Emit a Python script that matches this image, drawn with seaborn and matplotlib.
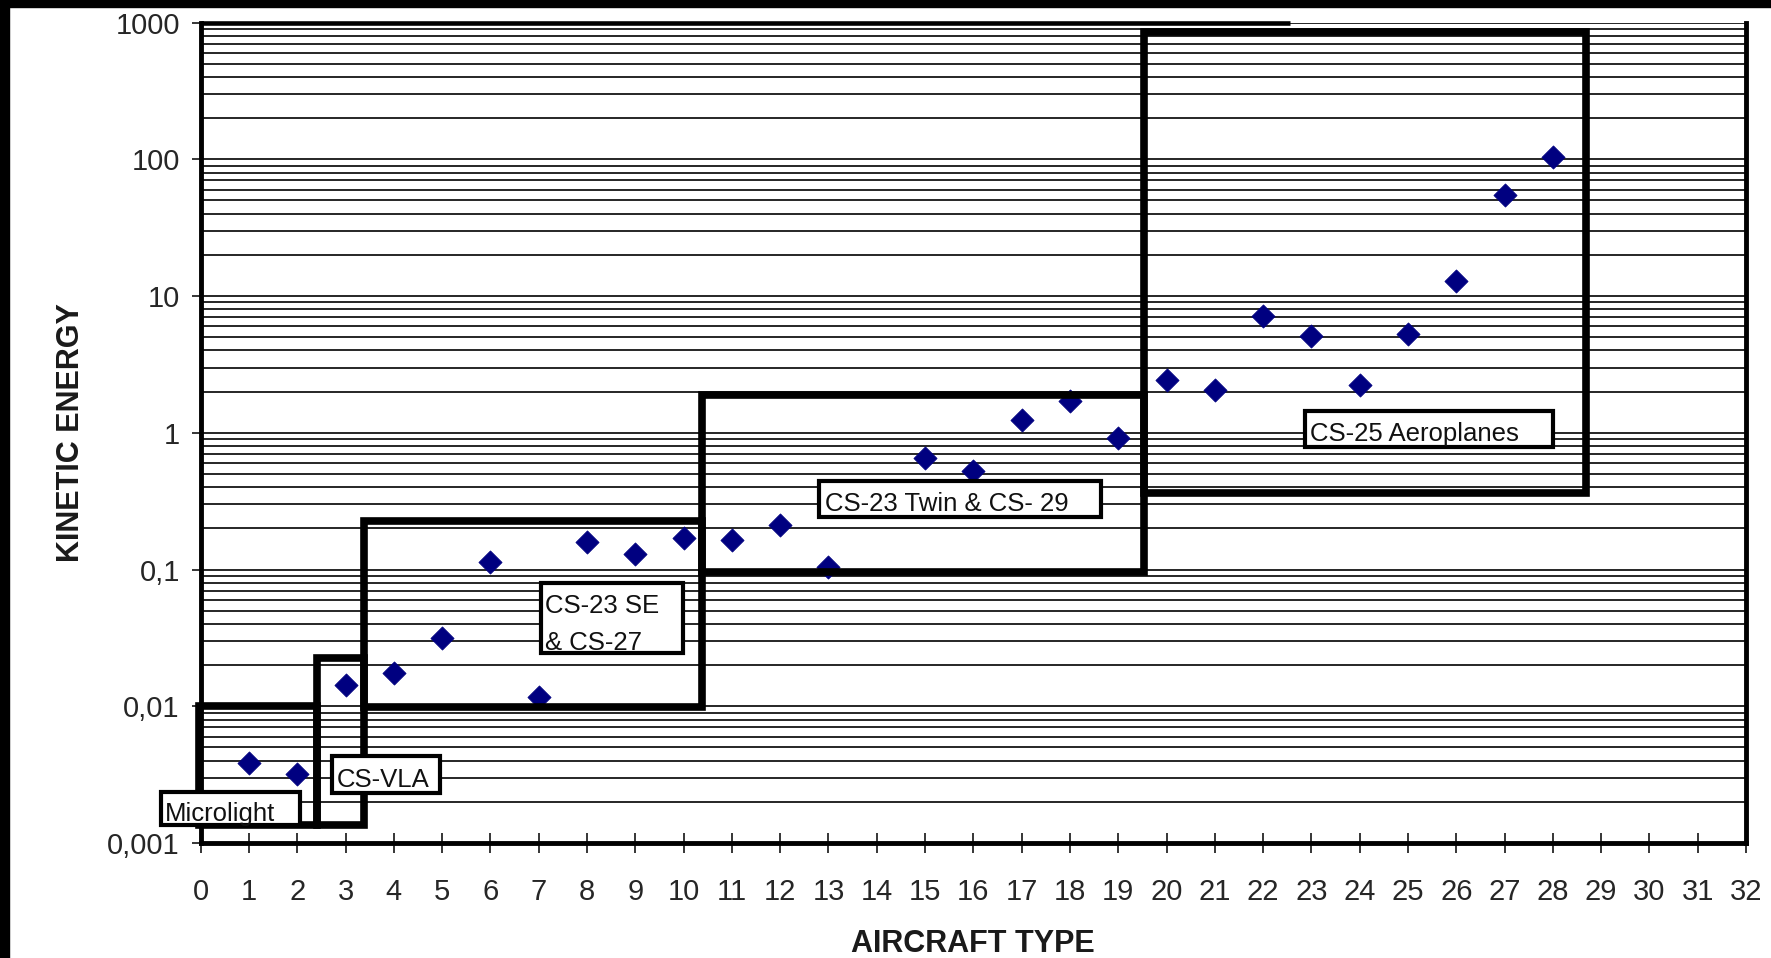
import numpy as np
import pandas as pd
import matplotlib
matplotlib.use("Agg")
import matplotlib.pyplot as plt
from matplotlib import font_manager
from matplotlib.patches import Rectangle
from matplotlib.ticker import FixedLocator, FixedFormatter, LogLocator, NullFormatter
import seaborn as sns

# Aircraft type index and kinetic energy per type (no entry for type 14)
aircraft_type = [1, 2, 3, 4, 5, 6, 7, 8, 9, 10, 11, 12, 13,
                 15, 16, 17, 18, 19, 20, 21, 22, 23, 24, 25, 26, 27, 28]
kinetic_energy = [0.00385, 0.00321, 0.0144, 0.0175, 0.0313, 0.113, 0.0116,
                  0.160, 0.130, 0.169, 0.164, 0.211, 0.105,
                  0.649, 0.527, 1.25, 1.70, 0.909,
                  2.43, 2.07, 7.20, 5.10, 2.23, 5.23, 12.9, 54.8, 103.0]

x_ticks = list(range(0, 33))
y_ticks = [0.001, 0.01, 0.1, 1, 10, 100, 1000]
y_tick_labels = ["0,001", "0,01", "0,1", "1", "10", "100", "1000"]

# Certification category regions: x extent and energy extent
zone_x = [(-0.04, 2.405), (2.405, 3.387), (3.387, 10.39), (10.39, 19.53), (19.53, 28.68)]
zone_y = [(0.00135, 0.0100), (0.00135, 0.0224), (0.0098, 0.226), (0.0952, 1.88), (0.360, 858.0)]

# Category caption boxes
caption_lines = [["Microlight"], ["CS-VLA"], ["CS-23 SE", "& CS-27"],
                 ["CS-23 Twin & CS- 29"], ["CS-25 Aeroplanes"]]
caption_box_x = [(-0.82, 2.06), (2.72, 4.95), (7.05, 9.99), (12.80, 18.64), (22.87, 28.0)]
caption_box_y = [(0.001346, 0.002379), (0.002312, 0.004335), (0.02448, 0.0791),
                 (0.2404, 0.4449), (0.789, 1.445)]
caption_text_x = [-0.74, 2.81, 7.14, 12.92, 22.97]
caption_baselines = [[0.001443], [0.002553], [0.0478, 0.02597], [0.2697], [0.875]]

df = pd.DataFrame({"type": aircraft_type, "energy": kinetic_energy})

sns.set_theme(style="white")
plt.rcParams["font.family"] = ["Liberation Sans", "DejaVu Sans"]

# narrow face for the captions, falling back to a regular face at a smaller size
installed = {f.name for f in font_manager.fontManager.ttflist}
caption_family, caption_size = "Liberation Sans", 18.5
for fam, size in [("Liberation Sans Narrow", 22), ("DejaVu Sans Condensed", 18.5)]:
    if fam in installed:
        caption_family, caption_size = fam, size
        break

fig = plt.figure(figsize=(17.71, 9.58), dpi=100)
fig.patch.set_facecolor("white")
ax = fig.add_axes([0.1133, 0.12004, 0.8726, 0.85647])

sns.scatterplot(data=df, x="type", y="energy", marker="D", s=140,
                color="#000080", edgecolor="#000080", linewidth=0.5,
                ax=ax, zorder=3, legend=False)

ax.set_yscale("log")
ax.set_xlim(0, 32)
ax.set_ylim(1e-3, 1e3)

ax.yaxis.set_major_locator(FixedLocator(y_ticks))
ax.yaxis.set_major_formatter(FixedFormatter(y_tick_labels))
ax.yaxis.set_minor_locator(LogLocator(base=10, subs=np.arange(2, 10)))
ax.yaxis.set_minor_formatter(NullFormatter())
ax.set_axisbelow(True)
ax.grid(True, axis="y", which="both", color="#262626", linewidth=1.4)
ax.xaxis.grid(False)

ax.set_xticks(x_ticks)
ax.tick_params(axis="x", which="major", direction="inout", length=15, width=1.1,
               color="black", pad=17.5, labelsize=21, labelcolor="#262626", bottom=True)
ax.tick_params(axis="y", which="major", direction="out", length=6.5, width=1.1,
               color="black", pad=8.5, labelsize=21, labelcolor="#262626", left=True)
ax.tick_params(axis="y", which="minor", length=0, left=False)

for side in ("left", "bottom", "right"):
    ax.spines[side].set_visible(True)
    ax.spines[side].set_linewidth(3.5)
    ax.spines[side].set_color("black")
ax.spines["top"].set_visible(False)

# partial heavy frame line along the top
ax.plot([0, 22.55], [1000, 1000], color="black", lw=3.3, clip_on=False,
        zorder=4, solid_capstyle="butt")

# category regions
for (x0, x1), (y0, y1) in zip(zone_x, zone_y):
    ax.add_patch(Rectangle((x0, y0), x1 - x0, y1 - y0, fill=False,
                           edgecolor="black", linewidth=5.5, joinstyle="miter",
                           zorder=5, clip_on=False))

# category captions
for lines, (bx0, bx1), (by0, by1), tx, bases in zip(caption_lines, caption_box_x,
                                                     caption_box_y, caption_text_x,
                                                     caption_baselines):
    ax.add_patch(Rectangle((bx0, by0), bx1 - bx0, by1 - by0, facecolor="white",
                           edgecolor="black", linewidth=3, joinstyle="miter",
                           zorder=6, clip_on=False))
    for line, yb in zip(lines, bases):
        ax.text(tx, yb, line, fontsize=caption_size, family=[caption_family, "DejaVu Sans"],
                va="baseline", ha="left", color="#111111", zorder=7, clip_on=False)

ax.set_xlabel("AIRCRAFT TYPE", fontsize=22, fontweight="bold", labelpad=17, color="#1a1a1a")
ax.set_ylabel("KINETIC ENERGY", fontsize=22, fontweight="bold", labelpad=15, color="#1a1a1a")

# dark frame strips on the top and left edges
fig.add_artist(Rectangle((0, 1 - 7 / 958), 1, 7 / 958, transform=fig.transFigure,
                         color="black", zorder=10))
fig.add_artist(Rectangle((0, 0), 9 / 1771, 1, transform=fig.transFigure,
                         color="black", zorder=10))

fig.savefig("out.png", dpi=100, facecolor="white")
